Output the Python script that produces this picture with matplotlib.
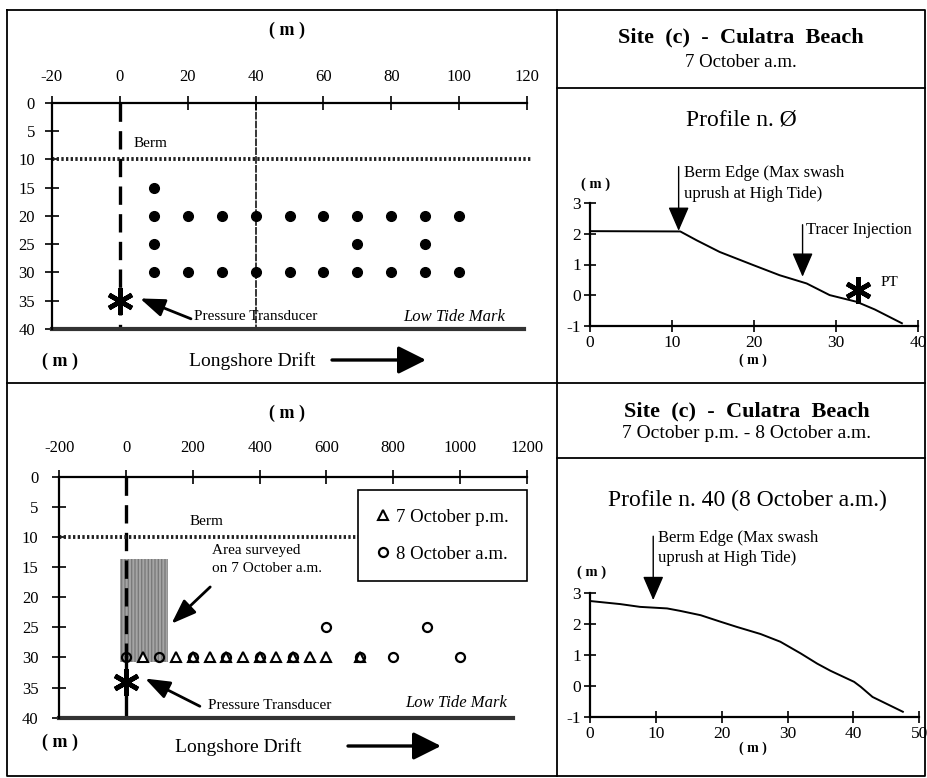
import matplotlib
matplotlib.use('Agg')
import matplotlib.pyplot as plt

plt.rcParams['font.family'] = ['Liberation Serif', 'DejaVu Serif']
plt.rcParams['axes.unicode_minus'] = False

# ---- data -------------------------------------------------------------
# 7 October a.m. tracer sampling grid (longshore m, cross-shore m)
am7_x = [10,
         10, 20, 30, 40, 50, 60, 70, 80, 90, 100,
         10, 70, 90,
         10, 20, 30, 40, 50, 60, 70, 80, 90, 100]
am7_y = [15,
         20, 20, 20, 20, 20, 20, 20, 20, 20, 20,
         25, 25, 25,
         30, 30, 30, 30, 30, 30, 30, 30, 30, 30]

# 7 October p.m. and 8 October a.m. sampling points
pm7_x = [50, 150, 200, 250, 300, 350, 400, 450, 500, 550, 600, 700]
pm7_y = [30, 30, 30, 30, 30, 30, 30, 30, 30, 30, 30, 30]
am8_x = [0, 100, 200, 300, 400, 500, 600, 700, 800, 900, 1000]
am8_y = [30, 30, 30, 30, 30, 30, 25, 30, 30, 25, 30]

# area surveyed on 7 October a.m. (bottom map)
survey_x = [-18, 126]
survey_y = [13.6, 30.8]

# berm / low tide lines, pressure transducer
berm_top_x, berm_top_y = [-20, 121], 10
berm_bot_x, berm_bot_y = [-200, 700], 10
tide_top_x, tide_bot_x = [-20, 119], [-200, 1160]
pt_top = (0, 35)
pt_bot = (0, 34)

# beach profiles
prof0_x = [0, 11, 13, 15.8, 19.9, 23.1, 26.4, 29.2, 32.5, 34.7, 38]
prof0_y = [2.09, 2.08, 1.79, 1.41, 0.98, 0.65, 0.38, 0.0, -0.22, -0.47, -0.92]
prof40_x = [0, 4.6, 7.6, 11.7, 13.7, 16.8, 19.8, 22.3, 25.9, 28.9, 32, 34.5,
            36.5, 40.1, 41.1, 42.9, 47.5]
prof40_y = [2.75, 2.65, 2.56, 2.51, 2.43, 2.29, 2.08, 1.91, 1.68, 1.43, 1.05,
            0.72, 0.49, 0.13, -0.03, -0.36, -0.84]

# ---- figure -------------------------------------------------------------
W, H = 927, 778
fig = plt.figure(figsize=(W / 100, H / 100), dpi=100)

bg = fig.add_axes([0, 0, 1, 1], zorder=-1)
bg.set_xlim(0, W)
bg.set_ylim(H, 0)
bg.axis('off')

# panel frame
frame_kw = dict(color='black', lw=1.3)
bg.plot([7, 925, 925, 7, 7], [10, 10, 776, 776, 10], **frame_kw)
bg.plot([557, 557], [10, 776], **frame_kw)
bg.plot([7, 925], [383, 383], **frame_kw)
bg.plot([557, 925], [88, 88], **frame_kw)
bg.plot([557, 925], [458, 458], **frame_kw)


def add_ax(x0, x1, y0, y1):
    return fig.add_axes([x0 / W, 1 - y1 / H, (x1 - x0) / W, (y1 - y0) / H])


arrow_big = '-|>,head_length=1.7,head_width=0.85'
arrow_pt = '-|>,head_length=1.5,head_width=0.55'
arrow_berm = '-|>,head_length=1.5,head_width=0.65'


def map_axes(ax, xlim, xticks, pad_x, pad_y):
    ax.set_xlim(*xlim)
    ax.set_ylim(40, 0)
    ax.xaxis.tick_top()
    ax.set_xticks(xticks)
    ax.set_yticks(range(0, 41, 5))
    ax.tick_params(axis='x', direction='inout', length=10, width=1.2, labelsize=12, pad=pad_x)
    ax.tick_params(axis='y', direction='inout', length=10, width=1.2, labelsize=12, pad=pad_y)
    ax.spines['bottom'].set_visible(False)
    ax.spines['right'].set_visible(False)
    ax.spines['top'].set_linewidth(1.6)
    ax.spines['left'].set_linewidth(1.6)
    ax.patch.set_alpha(0)


def asterisk(ax, pos):
    ax.plot(*pos, marker=(6, 2, 0), ms=19, mew=3.4, color='black', clip_on=False, zorder=5)


# ---- top-left map ---------------------------------------------------------
ax1 = add_ax(51.7, 527.3, 102.7, 329)
map_axes(ax1, (-20, 120), range(-20, 121, 20), 8, 7)
ax1.plot(am7_x, am7_y, 'o', color='black', ms=7)
ax1.plot([0, 0], [0, 40], color='black', lw=2.4, ls=(0, (5.5, 2.8)))
ax1.plot([40, 40], [0, 40], color='black', lw=1.1, ls=(0, (5, 0.8)))
ax1.plot(berm_top_x, [berm_top_y] * 2, color='#222222', lw=2.8, ls=(0, (0.6, 0.6)), clip_on=False)
ax1.plot(tide_top_x, [40, 40], color='#333333', lw=3, clip_on=False)
asterisk(ax1, pt_top)
ax1.annotate('', xy=(6, 34.6), xytext=(21, 38.2),
             arrowprops=dict(arrowstyle=arrow_pt, mutation_scale=10, lw=2, color='black',
                             shrinkA=0, shrinkB=0), annotation_clip=False)
ax1.text(4, 7.2, 'Berm', fontsize=11, va='center')
ax1.text(22, 37.8, 'Pressure Transducer', fontsize=11, va='center')
ax1.text(113.5, 37.8, 'Low Tide Mark', fontsize=12, style='italic', va='center', ha='right')

bg.text(287, 30, '( m )', fontsize=13, fontweight='bold', ha='center', va='center')
bg.text(60, 361, '( m )', fontsize=13, fontweight='bold', ha='center', va='center')
bg.text(189, 361, 'Longshore Drift', fontsize=14, ha='left', va='center')
bg.annotate('', xy=(426, 360), xytext=(332, 360),
            arrowprops=dict(arrowstyle=arrow_big, mutation_scale=10, lw=2.4, color='black',
                            shrinkA=0, shrinkB=0))

# ---- bottom-left map --------------------------------------------------------
ax3 = add_ax(59.3, 526.7, 476.7, 717.7)
map_axes(ax3, (-200, 1200), range(-200, 1201, 200), 10, 10)
ax3.fill_between(survey_x, survey_y[0], survey_y[1], facecolor='#a5a5a5',
                 edgecolor='#7a7a7a', hatch='|||||', lw=0, zorder=1)
ax3.plot([0, 0], [0, 30], color='black', lw=2.4, ls=(0, (5.5, 2.8)), zorder=2)
ax3.plot([0, 0], [30, 40], color='black', lw=2.4, zorder=2)
ax3.plot(berm_bot_x, [berm_bot_y] * 2, color='#222222', lw=2.8, ls=(0, (0.6, 0.6)))
ax3.plot(tide_bot_x, [40, 40], color='#333333', lw=3, clip_on=False)
ax3.plot(pm7_x, pm7_y, '^', ms=6.5, mfc='white', mec='black', mew=1.5, ls='none',
         label='7 October p.m.', zorder=4)
ax3.plot(am8_x, am8_y, 'o', ms=6.5, mfc='none', mec='black', mew=1.6, ls='none',
         label='8 October a.m.', zorder=4)
asterisk(ax3, pt_bot)
ax3.annotate('', xy=(57, 33.5), xytext=(221, 38.1),
             arrowprops=dict(arrowstyle=arrow_pt, mutation_scale=10, lw=2, color='black',
                             shrinkA=0, shrinkB=0), annotation_clip=False)
ax3.annotate('', xy=(136, 24.4), xytext=(252, 18.3),
             arrowprops=dict(arrowstyle=arrow_pt, mutation_scale=10, lw=2, color='black',
                             shrinkA=0, shrinkB=0), annotation_clip=False)
ax3.text(240, 7.5, 'Berm', fontsize=11, ha='center', va='center')
ax3.text(258, 12.3, 'Area surveyed', fontsize=11, va='center')
ax3.text(258, 15.2, 'on 7 October a.m.', fontsize=11, va='center')
ax3.text(245, 38.0, 'Pressure Transducer', fontsize=11, va='center')
ax3.text(1140, 37.5, 'Low Tide Mark', fontsize=12, style='italic', va='center', ha='right')
leg = ax3.legend(loc='upper right', bbox_to_anchor=(1.001, 0.945), fontsize=13.5,
                 frameon=True, fancybox=False, edgecolor='black', framealpha=1,
                 handlelength=0.6, handletextpad=0.4, labelspacing=1.05,
                 borderpad=1.0, borderaxespad=0)
leg.get_frame().set_linewidth(1.2)

bg.text(287, 413, '( m )', fontsize=13, fontweight='bold', ha='center', va='center')
bg.text(60, 742, '( m )', fontsize=13, fontweight='bold', ha='center', va='center')
bg.text(175, 747, 'Longshore Drift', fontsize=14, ha='left', va='center')
bg.annotate('', xy=(441, 746), xytext=(348, 746),
            arrowprops=dict(arrowstyle=arrow_big, mutation_scale=10, lw=2.4, color='black',
                            shrinkA=0, shrinkB=0))


# ---- profiles ---------------------------------------------------------------
def profile_axes(ax, xmax):
    ax.set_xlim(0, xmax)
    ax.set_ylim(-1, 3)
    ax.set_xticks(range(0, xmax + 1, 10))
    ax.set_yticks(range(-1, 4))
    ax.tick_params(direction='inout', length=9, width=1.2, labelsize=12.5, pad=2)
    ax.spines['top'].set_visible(False)
    ax.spines['right'].set_visible(False)
    ax.spines['left'].set_linewidth(1.6)
    ax.spines['bottom'].set_linewidth(1.6)
    ax.patch.set_alpha(0)


ax2 = add_ax(590, 918.3, 203.3, 325.7)
profile_axes(ax2, 40)
ax2.plot(prof0_x, prof0_y, color='black', lw=1.4)
ax2.annotate('', xy=(10.8, 2.1), xytext=(10.8, 4.2),
             arrowprops=dict(arrowstyle=arrow_berm, mutation_scale=10, lw=1, color='black',
                             shrinkA=0, shrinkB=0), annotation_clip=False)
ax2.annotate('', xy=(25.9, 0.6), xytext=(25.9, 2.3),
             arrowprops=dict(arrowstyle=arrow_berm, mutation_scale=10, lw=1, color='black',
                             shrinkA=0, shrinkB=0), annotation_clip=False)
ax2.text(11.5, 3.98, 'Berm Edge (Max swash', fontsize=12, va='center')
ax2.text(11.5, 3.32, 'uprush at High Tide)', fontsize=12, va='center')
ax2.text(26.3, 2.12, 'Tracer Injection', fontsize=12, va='center')
asterisk(ax2, (32.6, 0.16))
ax2.text(35.4, 0.4, 'PT', fontsize=11, va='center')

bg.text(741, 37, 'Site  (c)  -  Culatra  Beach', fontsize=16, fontweight='bold',
        ha='center', va='center')
bg.text(741, 62, '7 October a.m.', fontsize=13.5, ha='center', va='center')
bg.text(741, 120, 'Profile n. Ø', fontsize=17, ha='center', va='center')
bg.text(596, 184, '( m )', fontsize=10.5, fontweight='bold', ha='center', va='center')
bg.text(753, 360, '( m )', fontsize=10, fontweight='bold', ha='center', va='center')

ax4 = add_ax(590, 919.3, 593.3, 716.7)
profile_axes(ax4, 50)
ax4.plot(prof40_x, prof40_y, color='black', lw=1.4)
ax4.annotate('', xy=(9.6, 2.78), xytext=(9.6, 4.85),
             arrowprops=dict(arrowstyle=arrow_berm, mutation_scale=10, lw=1, color='black',
                             shrinkA=0, shrinkB=0), annotation_clip=False)
ax4.text(10.4, 4.78, 'Berm Edge (Max swash', fontsize=12, va='center')
ax4.text(10.4, 4.16, 'uprush at High Tide)', fontsize=12, va='center')

bg.text(747, 411, 'Site  (c)  -  Culatra  Beach', fontsize=16, fontweight='bold',
        ha='center', va='center')
bg.text(747, 433, '7 October p.m. - 8 October a.m.', fontsize=14, ha='center', va='center')
bg.text(747, 500, 'Profile n. 40 (8 October a.m.)', fontsize=17, ha='center', va='center')
bg.text(592, 572, '( m )', fontsize=10.5, fontweight='bold', ha='center', va='center')
bg.text(753, 748, '( m )', fontsize=10, fontweight='bold', ha='center', va='center')

fig.savefig('out.png', dpi=100)
